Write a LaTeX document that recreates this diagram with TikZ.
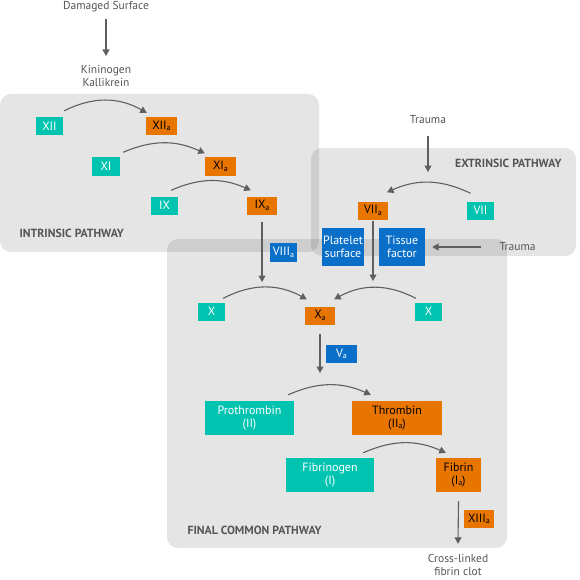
\documentclass[tikz,border=0pt]{standalone}
\usepackage{fontspec}
\setmainfont{PT Sans}
\usetikzlibrary{arrows.meta,calc}
\definecolor{tealc}{HTML}{00C4B0}
\definecolor{orangec}{HTML}{E87500}
\definecolor{bluec}{HTML}{0A6FC9}
\definecolor{linec}{HTML}{5F5F5F}
\definecolor{txtc}{HTML}{555555}
\newcommand{\subA}{\raisebox{-1.5pt}{\fontsize{8}{8}\selectfont a}}
\tikzset{
  panel/.style={fill=black, fill opacity=0.1, rounded corners=11pt},
  fbox/.style={inner sep=0pt, minimum height=18pt, align=center, font=\fontsize{12}{13}\selectfont},
  tbox/.style={fbox, fill=tealc, text=white},
  obox/.style={fbox, fill=orangec, text=black},
  bbox/.style={fbox, fill=bluec, text=white},
  lbl/.style={text=txtc, align=center, font=\fontsize{11.5}{13}\selectfont},
  plbl/.style={text=txtc, font=\bfseries\fontsize{11.8}{12}\selectfont},
  arr/.style={draw=linec, line width=1.1pt, -{Triangle[length=6.5pt,width=7pt]}},
}
\begin{document}
\begin{tikzpicture}[x=1pt,y=-1pt]
\useasboundingbox (0,0) rectangle (579,580);
% panels
\fill[panel] (0,94) rectangle (319,252);
\fill[panel] (311,148) rectangle (576,256);
\fill[panel] (167,239) rectangle (507,548);
\node[plbl, anchor=west] (intr) at (16,233) {INTRINSIC PATHWAY};
\node[plbl, anchor=east] (extr) at (565,163) {EXTRINSIC PATHWAY};
\node[plbl, anchor=west] (fcp) at (184,530) {FINAL COMMON PATHWAY};
% top labels
\node[lbl] (dam) at (106,7) {Damaged Surface};
\node[lbl] (kin) at (106,76) {Kininogen\\Kallikrein};
\coordinate (damtip) at (106,56);
\draw[arr] ([yshift=-3pt]dam.south) -- (damtip);
% intrinsic
\node[tbox, minimum width=27pt] (xii) at (49.5,126) {XII};
\node[obox, minimum width=31pt] (xiia) at (161.5,126) {XII\subA};
\node[tbox, minimum width=28pt] (xi) at (106,166.5) {XI};
\node[obox, minimum width=31pt] (xia) at (220.5,166.5) {XI\subA};
\node[tbox, minimum width=27pt] (ix) at (164.5,205.5) {IX};
\node[obox, minimum width=30pt] (ixa) at (262,205.5) {IX\subA};
\draw[arr] ([xshift=1pt,yshift=6pt]xii.north east) to[bend left=28] ([xshift=1pt,yshift=4pt]xiia.north west);
\draw[arr] ([xshift=3pt,yshift=5pt]xi.north east) to[bend left=24] ([yshift=4pt]xia.north west);
\draw[arr] ([xshift=-7pt,yshift=6pt]ix.north east) to[bend left=24] ([xshift=4pt,yshift=6pt]ixa.north west);
\node[bbox, minimum width=27pt, minimum height=19pt] (viiia) at (283.5,252.5) {VIII\subA};
\coordinate (xlin) at (262,282);
\draw[arr] ([yshift=-7pt]ixa.south) -- (xlin);
% extrinsic
\node[lbl] (tr1) at (428,120) {Trauma};
\coordinate (tr1tip) at (428,172);
\draw[arr] ([yshift=-8pt]tr1.south) -- (tr1tip);
\node[obox, minimum width=30pt] (viia) at (373,210.5) {VII\subA};
\node[tbox, minimum width=27pt] (vii) at (480.5,210.5) {VII};
\draw[arr] ([xshift=-10pt,yshift=8pt]vii.north) to[bend right=25] ([xshift=14pt,yshift=9pt]viia.north);
\node[bbox, minimum width=42pt, minimum height=38pt] (plat) at (343,247) {Platelet\\surface};
\node[bbox, minimum width=46pt, minimum height=38pt] (tissue) at (402,247) {Tissue\\factor};
\node[lbl, anchor=west] (tr2) at (496,247) {Trauma};
\draw[arr] ([xshift=-15pt]tr2.west) -- ([xshift=7pt]tissue.east);
\coordinate (xrin) at (373,281);
\draw[arr] ([yshift=-1pt]viia.south) -- (xrin);
% final common
\node[tbox, minimum width=27pt] (xl) at (211.5,311.5) {X};
\node[obox, minimum width=30pt] (xa) at (320,315.5) {X\subA};
\node[tbox, minimum width=27pt] (xr) at (428.5,311.5) {X};
\draw[arr] ([xshift=-2pt,yshift=4pt]xl.north east) to[bend left=28] ([xshift=2pt,yshift=7pt]xa.north west);
\draw[arr] ([xshift=1pt,yshift=4pt]xr.north west) to[bend right=28] ([xshift=-1pt,yshift=7pt]xa.north east);
\node[bbox, minimum width=31pt] (va) at (341.5,354) {V\subA};
\coordinate (ptip) at (320,373);
\draw[arr] ([yshift=-9pt]xa.south) -- (ptip);
\node[tbox, minimum width=89pt, minimum height=34pt] (pro) at (249.5,418) {Prothrombin\\(II)};
\node[obox, minimum width=90pt, minimum height=34pt] (thr) at (397,418) {Thrombin\\(II\subA)};
\draw[arr] ([xshift=-6pt,yshift=6pt]pro.north east) to[bend left=24] ([xshift=19pt,yshift=6pt]thr.north west);
\node[tbox, minimum width=88pt, minimum height=34pt] (fbg) at (330,475) {Fibrinogen\\(I)};
\node[obox, minimum width=45pt, minimum height=34pt] (fib) at (458.5,475) {Fibrin\\(I\subA)};
\draw[arr] ([xshift=-11pt,yshift=5pt]fbg.north east) to[bend left=24] ([xshift=10pt,yshift=5pt]fib.north west);
\node[obox, minimum width=30pt] (xiiia) at (479,519) {XIII\subA};
\node[lbl] (clot) at (458,565) {Cross-linked\\fibrin clot};
\draw[arr] ([yshift=-9pt]fib.south) -- ([yshift=7pt]clot.north);
\end{tikzpicture}
\end{document}
